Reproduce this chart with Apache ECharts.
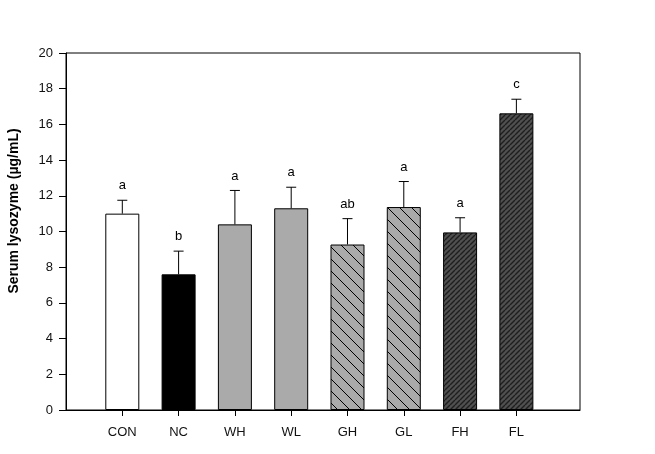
<!DOCTYPE html>
<html>
<head>
<meta charset="utf-8">
<script src="https://cdn.jsdelivr.net/npm/echarts@6/dist/echarts.min.js"></script>
<style>html,body{margin:0;padding:0;background:#fff}#c{width:655px;height:454px}</style>
</head>
<body>
<div id="c"></div>
<script>
const categories = ['CON', 'NC', 'WH', 'WL', 'GH', 'GL', 'FH', 'FL'];
const means = [11.0, 7.6, 10.4, 11.3, 9.27, 11.37, 9.95, 16.62];
const errors = [0.75, 1.3, 1.9, 1.18, 1.45, 1.43, 0.82, 0.79];
const letters = ['a', 'b', 'a', 'a', 'ab', 'a', 'a', 'c'];
const yTicks = [0, 2, 4, 6, 8, 10, 12, 14, 16, 18, 20];
const yTitle = 'Serum lysozyme (\u00b5g/mL)';

function hatch(bg, line, size, dir, lw) {
  const c = document.createElement('canvas');
  c.width = size; c.height = size;
  const ctx = c.getContext('2d');
  ctx.fillStyle = bg; ctx.fillRect(0, 0, size, size);
  ctx.strokeStyle = line; ctx.lineWidth = lw;
  ctx.beginPath();
  for (let k = -1; k <= 1; k++) {
    if (dir === '\\') { ctx.moveTo(k * size, 0); ctx.lineTo(k * size + size, size); }
    else { ctx.moveTo(k * size, size); ctx.lineTo(k * size + size, 0); }
  }
  ctx.stroke();
  return { image: c, repeat: 'repeat' };
}
const gPat = hatch('#aaaaaa', '#000000', 12, '\\', 1);
const fPat = hatch('#505050', '#1e1e1e', 5, '/', 1.4);
const fills = ['#ffffff', '#000000', '#aaaaaa', '#aaaaaa', gPat, gPat, fPat, fPat];

const barData = categories.map((c, i) => ({
  value: [i + 1, means[i]],
  itemStyle: { color: fills[i], borderColor: '#000', borderWidth: 1 }
}));
const errData = categories.map((c, i) => [i + 1, means[i], errors[i], i]);

const chart = echarts.init(document.getElementById('c'), null, { renderer: 'canvas' });
chart.setOption({
  animation: false,
  backgroundColor: '#fff',
  grid: { left: 66, top: 53, right: 75, bottom: 44, outerBoundsMode: 'none', containLabel: false, show: true, borderColor: '#000', borderWidth: 1, backgroundColor: 'transparent' },
  graphic: [{
    type: 'text', x: 14, y: 211, rotation: Math.PI / 2,
    style: { text: yTitle, fontSize: 14, fontWeight: 'bold', fill: '#000', fontFamily: 'Arial, Liberation Sans', align: 'center', verticalAlign: 'middle' }
  }],
  xAxis: {
    type: 'value', min: 0, max: 9.13,
    axisLine: { show: true, lineStyle: { color: '#000', width: 1 } },
    axisTick: { show: true, customValues: [1, 2, 3, 4, 5, 6, 7, 8], length: 6, inside: false, lineStyle: { color: '#000' } },
    axisLabel: { customValues: [1, 2, 3, 4, 5, 6, 7, 8], formatter: v => categories[Math.round(v) - 1] || '', margin: 16, color: '#111', fontSize: 13, fontFamily: 'Arial, Liberation Sans' },
    splitLine: { show: false }
  },
  yAxis: {
    type: 'value', min: 0, max: 20, interval: 2,
    axisLine: { show: true, lineStyle: { color: '#000', width: 1 } },
    axisTick: { show: true, length: 7, inside: false, lineStyle: { color: '#000' } },
    axisLabel: { margin: 13, color: '#111', fontSize: 13, fontFamily: 'Arial, Liberation Sans', formatter: v => yTicks.includes(v) ? String(v) : '' },
    splitLine: { show: false }
  },
  series: [
    { type: 'bar', data: barData, barWidth: 34, z: 2 },
    {
      type: 'custom', z: 3, data: errData,
      renderItem: function (params, api) {
        const x = api.value(0), m = api.value(1), e = api.value(2), idx = api.value(3);
        const base = api.coord([x, m]);
        const top = api.coord([x, m + e]);
        return {
          type: 'group',
          children: [
            { type: 'line', shape: { x1: base[0], y1: base[1], x2: top[0], y2: top[1] }, style: { stroke: '#000', lineWidth: 1 } },
            { type: 'line', shape: { x1: top[0] - 5, y1: top[1], x2: top[0] + 5, y2: top[1] }, style: { stroke: '#000', lineWidth: 1 } },
            { type: 'text', x: top[0], y: top[1] - 8, style: { text: letters[idx], fill: '#000', fontSize: 13, fontFamily: 'Arial, Liberation Sans', align: 'center', verticalAlign: 'bottom' } }
          ]
        };
      }
    }
  ]
});
</script>
</body>
</html>
